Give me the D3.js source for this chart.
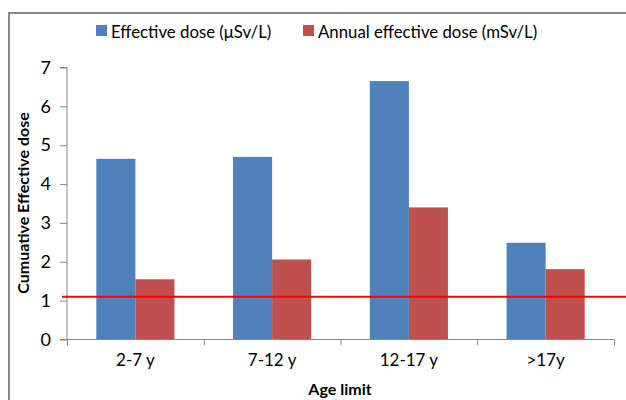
<!DOCTYPE html>
<html><head><meta charset="utf-8">
<script src="https://cdn.jsdelivr.net/npm/d3@7"></script>
<style>body{margin:0;background:#fff}svg{display:block}text{font-family:Lato,"Noto Sans",sans-serif}</style>
</head><body><svg id="c" width="626" height="400"></svg>
<script>
const categories = ["2-7 y", "7-12 y", "12-17 y", ">17y"];
const seriesNames = ["Effective dose (\u03bcSv/L)", "Annual effective dose (mSv/L)"];
const effectiveDose = [4.65, 4.70, 6.65, 2.49];
const annualDose = [1.55, 2.06, 3.40, 1.81];
const yTicks = [0, 1, 2, 3, 4, 5, 6, 7];
const limitValue = 1.1;
const colors = ["#4F81BD", "#C0504D"];

const svg = d3.select("#c");
const L = 67, R = 614, T = 67.5, B = 339.5;
const y = d3.scaleLinear().domain([0, 7]).range([B, T]);
const x0 = d3.scaleBand().domain(categories).range([L, R]).paddingInner(1.5/3.5).paddingOuter(0.75/3.5);
const x1 = d3.scaleBand().domain([0, 1]).range([0, x0.bandwidth()]);
const xb = d3.scaleLinear().domain([0, 4]).range([L, R]);

// frame
svg.append("path").attr("d", "M9,400V13H626").attr("fill", "none").attr("stroke", "#878787").attr("stroke-width", 2);

const series = [effectiveDose, annualDose];
series.forEach((vals, si) => {
  svg.append("g").selectAll("rect").data(vals).join("rect")
    .attr("x", (d, i) => x0(categories[i]) + x1(si))
    .attr("width", x1.bandwidth())
    .attr("y", d => y(d))
    .attr("height", d => B - y(d))
    .attr("fill", colors[si]);
});

// y axis
const ya = svg.append("g").attr("transform", `translate(${L},0)`)
  .call(d3.axisLeft(y).tickValues(yTicks).tickFormat(d3.format("d")).tickSize(7).tickPadding(9));
ya.select(".domain").attr("stroke", "#888").attr("d", `M-7,${T}H0V${B}H-7`);
ya.selectAll(".tick line").attr("stroke", "#888");
ya.selectAll(".tick text").attr("font-size", 18).attr("fill", "#000").style("font-family", "Lato");

// x axis
const xa = svg.append("g").attr("transform", `translate(0,${B})`)
  .call(d3.axisBottom(xb).tickValues([0, 1, 2, 3, 4]).tickFormat("").tickSize(6));
xa.select(".domain").attr("stroke", "#888").attr("d", `M${L},0H${R}`);
xa.selectAll(".tick line").attr("stroke", "#888");
const xl = svg.append("g").attr("transform", `translate(0,${B})`)
  .call(d3.axisBottom(x0).tickSize(0).tickPadding(14));
xl.select(".domain").remove();
xl.selectAll(".tick text").attr("font-size", 17).attr("fill", "#000").style("font-family", "Lato");

// limit line
svg.append("line").attr("x1", 62).attr("x2", 626).attr("y1", y(limitValue)).attr("y2", y(limitValue))
  .attr("stroke", "#FF0000").attr("stroke-width", 2);

// titles
svg.append("text").attr("transform", `translate(29,203) rotate(-90)`).attr("text-anchor", "middle")
  .attr("font-size", 16).attr("font-weight", "bold").text("Cumuative Effective dose");
svg.append("text").attr("x", 340).attr("y", 395).attr("text-anchor", "middle")
  .attr("font-size", 16).attr("font-weight", "bold").text("Age limit");

// legend
const lg = svg.append("g");
const lx = [96, 303];
seriesNames.forEach((n, i) => {
  lg.append("rect").attr("x", lx[i]).attr("y", 25).attr("width", 11).attr("height", 11).attr("fill", colors[i]);
  lg.append("text").attr("x", lx[i] + 15).attr("y", 37.5).attr("font-size", 16.8).text(n);
});
</script></body></html>
